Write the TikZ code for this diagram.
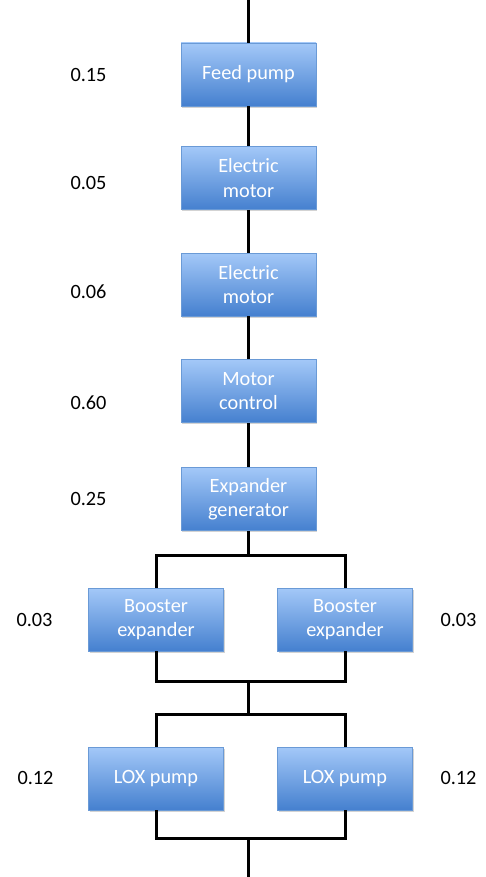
\documentclass[tikz,border=0pt]{standalone}
\usepackage{fontspec}
\setmainfont{Carlito}
\usetikzlibrary{shadows}
\definecolor{boxtop}{HTML}{A3C8F8}
\definecolor{boxbot}{HTML}{4580CF}
\definecolor{boxline}{HTML}{6A9AD6}
\tikzset{
block/.style={
	draw=boxline, line width=0.6pt, top color=boxtop, bottom color=boxbot,
	minimum width=135pt, minimum height=63pt, text=white, align=center,
	font=\fontsize{20.3}{24.5}\selectfont,
	drop shadow={opacity=0.35, shadow xshift=1.2pt, shadow yshift=-1.8pt}},
rate/.style={font=\fontsize{20.3}{24}\selectfont, text=black},
wire/.style={line width=3pt, black}
}

\begin{document}
\begin{tikzpicture}[x=1pt, y=-1pt]
	\useasboundingbox (0,0) rectangle (486,877);
	% chain
	\node[block] (feed) at (248.5,74.5) {Feed pump};
	\node[block] (motA) at (248.5,178) {Electric\\motor};
	\node[block] (motB) at (248.5,284.5) {Electric\\motor};
	\node[block] (ctrl) at (248.5,391) {Motor\\control};
	\node[block] (gen) at (248.5,499) {Expander\\generator};
	\node[block] (boostL) at (156,619.5) {Booster\\expander};
	\node[block] (boostR) at (345,619.5) {Booster\\expander};
	\node[block] (loxL) at (156,778.5) {LOX pump};
	\node[block] (loxR) at (345,778.5) {LOX pump};
	% rates
	\node[rate] (rFeed) at (88.5,75) {0.15};
	\node[rate] (rMotA) at (88.5,183) {0.05};
	\node[rate] (rMotB) at (88.5,292) {0.06};
	\node[rate] (rCtrl) at (88.5,403) {0.60};
	\node[rate] (rGen) at (88.5,499) {0.25};
	\node[rate] (rBoostL) at (34.5,620) {0.03};
	\node[rate] (rBoostR) at (458.5,620) {0.03};
	\node[rate] (rLoxL) at (35.5,778) {0.12};
	\node[rate] (rLoxR) at (458.5,778) {0.12};
	% wiring
	\coordinate (top) at (248.5,0);
	\coordinate (splitA) at (248.5,555);
	\coordinate (joinA) at (248.5,681);
	\coordinate (splitB) at (248.5,714);
	\coordinate (joinB) at (248.5,838);
	\coordinate (bot) at (248.5,877);
	\draw[wire] (top) -- (feed);
	\draw[wire] (feed) -- (motA);
	\draw[wire] (motA) -- (motB);
	\draw[wire] (motB) -- (ctrl);
	\draw[wire] (ctrl) -- (gen);
	\draw[wire] (gen) -- (splitA);
	\draw[wire] (boostL.north) |- (splitA) -| (boostR.north);
	\draw[wire] (boostL.south) |- (joinA) -| (boostR.south);
	\draw[wire] (joinA) -- (splitB);
	\draw[wire] (loxL.north) |- (splitB) -| (loxR.north);
	\draw[wire] (loxL.south) |- (joinB) -| (loxR.south);
	\draw[wire] (joinB) -- (bot);
\end{tikzpicture}
\end{document}
